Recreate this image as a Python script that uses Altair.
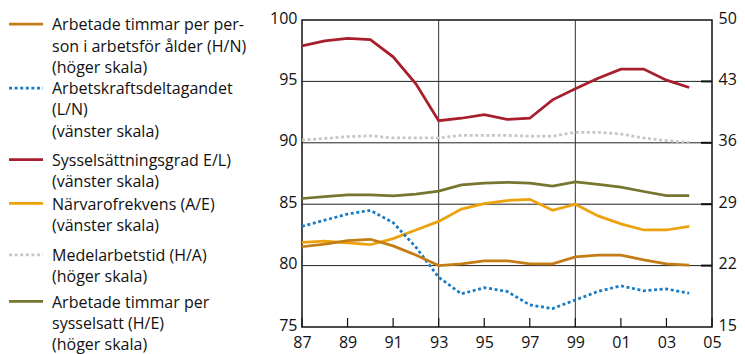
import altair as alt
import pandas as pd

# ---------------- data ----------------
years = list(range(1987, 2005))

# left scale (75-100)
ln_vals = [83.2, 83.7, 84.2, 84.5, 83.5, 81.5, 79.05, 77.7, 78.2, 77.9, 76.8, 76.5, 77.2, 77.9, 78.35, 77.95, 78.1, 77.75]
el_vals = [97.9, 98.3, 98.5, 98.4, 97.0, 94.8, 91.8, 92.0, 92.3, 91.9, 92.0, 93.5, 94.4, 95.25, 96.0, 96.0, 95.1, 94.5]
ae_vals = [81.9, 82.0, 81.85, 81.7, 82.2, 82.9, 83.6, 84.6, 85.05, 85.3, 85.4, 84.5, 85.0, 84.05, 83.4, 82.9, 82.9, 83.2]

# right scale (15-50)
hn_vals = [24.15, 24.45, 24.85, 25.0, 24.25, 23.2, 22.0, 22.2, 22.55, 22.55, 22.2, 22.2, 23.0, 23.2, 23.2, 22.65, 22.2, 22.05]
ha_vals = [36.3, 36.5, 36.7, 36.8, 36.55, 36.55, 36.55, 36.85, 36.85, 36.85, 36.75, 36.75, 37.2, 37.2, 37.0, 36.55, 36.25, 36.05]
he_vals = [29.65, 29.85, 30.05, 30.05, 29.95, 30.15, 30.5, 31.2, 31.4, 31.5, 31.4, 31.05, 31.55, 31.25, 30.95, 30.45, 29.98, 29.98]

left_ticks = [75, 80, 85, 90, 95, 100]
right_ticks = [15, 22, 29, 36, 43, 50]
hgrid_vals = [80, 85, 90, 95]
right_inner_ticks = [22, 29, 36, 43]
vgrid_years = [1993, 1999]
x_tick_years = list(range(1987, 2006, 2))

legend_groups = [
    ["Arbetade timmar per per-", "son i arbetsför ålder (H/N)", "(höger skala)"],
    ["Arbetskraftsdeltagandet", "(L/N)", "(vänster skala)"],
    ["Sysselsättningsgrad E/L)", "(vänster skala)"],
    ["Närvarofrekvens (A/E)", "(vänster skala)"],
    ["Medelarbetstid (H/A)", "(höger skala)"],
    ["Arbetade timmar per", "sysselsatt (H/E)", "(höger skala)"],
]
legend_group_top = [5.3, 69.2, 140.8, 184.5, 236.0, 282.5]

# ---------------- styles ----------------
FONT = "Open Sans"
W, H = 410, 307
PAD_LEFT = 294
LINE_SPACING = 21.2
LEG_TEXT_X = 52 - (8 + PAD_LEFT)
LEG_SYM_X1 = 9 - (8 + PAD_LEFT)
LEG_SYM_X2 = 43 - (8 + PAD_LEFT)

series_style = {
    "hn": dict(color="#c47d14", dash=None),
    "ln": dict(color="#1b7cc4", dash=[3, 2.6]),
    "el": dict(color="#a81e2d", dash=None),
    "ae": dict(color="#eca20c", dash=None),
    "ha": dict(color="#c6c6c6", dash=[3, 2.6]),
    "he": dict(color="#77752f", dash=None),
}
legend_order = ["hn", "ln", "el", "ae", "ha", "he"]

x_axis = alt.Axis(
    values=x_tick_years,
    labelExpr="slice(toString(datum.value), 2)",
    ticks=False,
    domain=False,
    grid=False,
    labelPadding=7,
    labelFontSize=16,
    labelFont=FONT,
    labelColor="#111",
    labelFlush=False,
    labelOverlap=False,
    title=None,
)
x_scale = alt.Scale(domain=[1987, 2005], nice=False, zero=False)


def X():
    return alt.X("year:Q", scale=x_scale, axis=x_axis)


left_scale = alt.Scale(domain=[75, 100], nice=False, zero=False)
right_scale = alt.Scale(domain=[15, 50], nice=False, zero=False)

left_axis = alt.Axis(values=left_ticks, ticks=False, domain=False, grid=False, labelPadding=5,
                     labelOffset=-2, labelFontSize=16, labelFont=FONT, labelColor="#111",
                     title=None, orient="left", labelFlush=False, labelOverlap=False)
right_axis = alt.Axis(values=right_ticks, ticks=False, domain=False, grid=False, labelPadding=6,
                      labelOffset=-2, labelFontSize=16, labelFont=FONT, labelColor="#111",
                      title=None, orient="right", labelFlush=False, labelOverlap=False)


def line_chart(key, vals, axis, scale):
    st = series_style[key]
    df = pd.DataFrame({"year": years, "value": vals})
    kw = dict(strokeWidth=2.75, color=st["color"])
    if st["dash"]:
        kw["strokeDash"] = st["dash"]
    return alt.Chart(df).mark_line(**kw).encode(
        x=X(),
        y=alt.Y("value:Q", scale=scale, axis=axis),
    )


# grid (left scale)
hgrid = alt.Chart(pd.DataFrame({"value": hgrid_vals})).mark_rule(color="#222", strokeWidth=1).encode(
    y=alt.Y("value:Q", scale=left_scale, axis=left_axis)
)
vgrid = alt.Chart(pd.DataFrame({"year": vgrid_years})).mark_rule(color="#333", strokeWidth=1).encode(
    x=X()
)
xticks = alt.Chart(pd.DataFrame({"year": x_tick_years})).mark_rule(color="#111", strokeWidth=1.2).encode(
    x=X(), y=alt.value(H), y2=alt.value(H - 9)
)

left_layer = alt.layer(
    hgrid,
    vgrid,
    xticks,
    line_chart("ae", ae_vals, left_axis, left_scale),
    line_chart("el", el_vals, left_axis, left_scale),
    line_chart("ln", ln_vals, left_axis, left_scale),
)

rticks = alt.Chart(pd.DataFrame({"value": right_inner_ticks})).mark_rule(color="#111", strokeWidth=2).encode(
    y=alt.Y("value:Q", scale=right_scale, axis=right_axis), x=alt.value(W - 11), x2=alt.value(W)
)
right_layer = alt.layer(
    rticks,
    line_chart("ha", ha_vals, right_axis, right_scale),
    line_chart("he", he_vals, right_axis, right_scale),
    line_chart("hn", hn_vals, right_axis, right_scale),
)

# ---------------- legend (text + symbols) ----------------
rows = []
sym_rows = []
for gi, (key, lines) in enumerate(zip(legend_order, legend_groups)):
    top = legend_group_top[gi]
    for li, t in enumerate(lines):
        rows.append({"txt": t, "py": top + li * LINE_SPACING})
    sym_rows.append({"key": key, "py": top - 1.2})

legend_marks = []
for r in rows:
    legend_marks.append(
        alt.Chart(pd.DataFrame([r])).mark_text(
            align="left", baseline="middle", font=FONT, fontSize=16, color="#111"
        ).encode(x=alt.value(LEG_TEXT_X), y=alt.value(r["py"]), text="txt:N")
    )
for r in sym_rows:
    st = series_style[r["key"]]
    kw = dict(color=st["color"], strokeWidth=2.75)
    if st["dash"]:
        kw["strokeDash"] = st["dash"]
    legend_marks.append(
        alt.Chart(pd.DataFrame([r])).mark_rule(**kw).encode(
            x=alt.value(LEG_SYM_X1), x2=alt.value(LEG_SYM_X2), y=alt.value(r["py"])
        )
    )

legend_layer = alt.layer(*legend_marks)

PAD_RIGHT = 729 - PAD_LEFT - W

chart = (
    alt.layer(left_layer, right_layer, legend_layer)
    .resolve_scale(y="independent")
    .properties(
        width=W,
        height=H,
        autosize=alt.AutoSizeParams(type="none"),
        padding={"left": PAD_LEFT, "top": 12, "right": PAD_RIGHT, "bottom": 27},
        background="white",
    )
    .configure_view(stroke="#111", strokeWidth=1.5)
)

chart.save("out.html", embed_options={"renderer": "svg", "actions": False})
